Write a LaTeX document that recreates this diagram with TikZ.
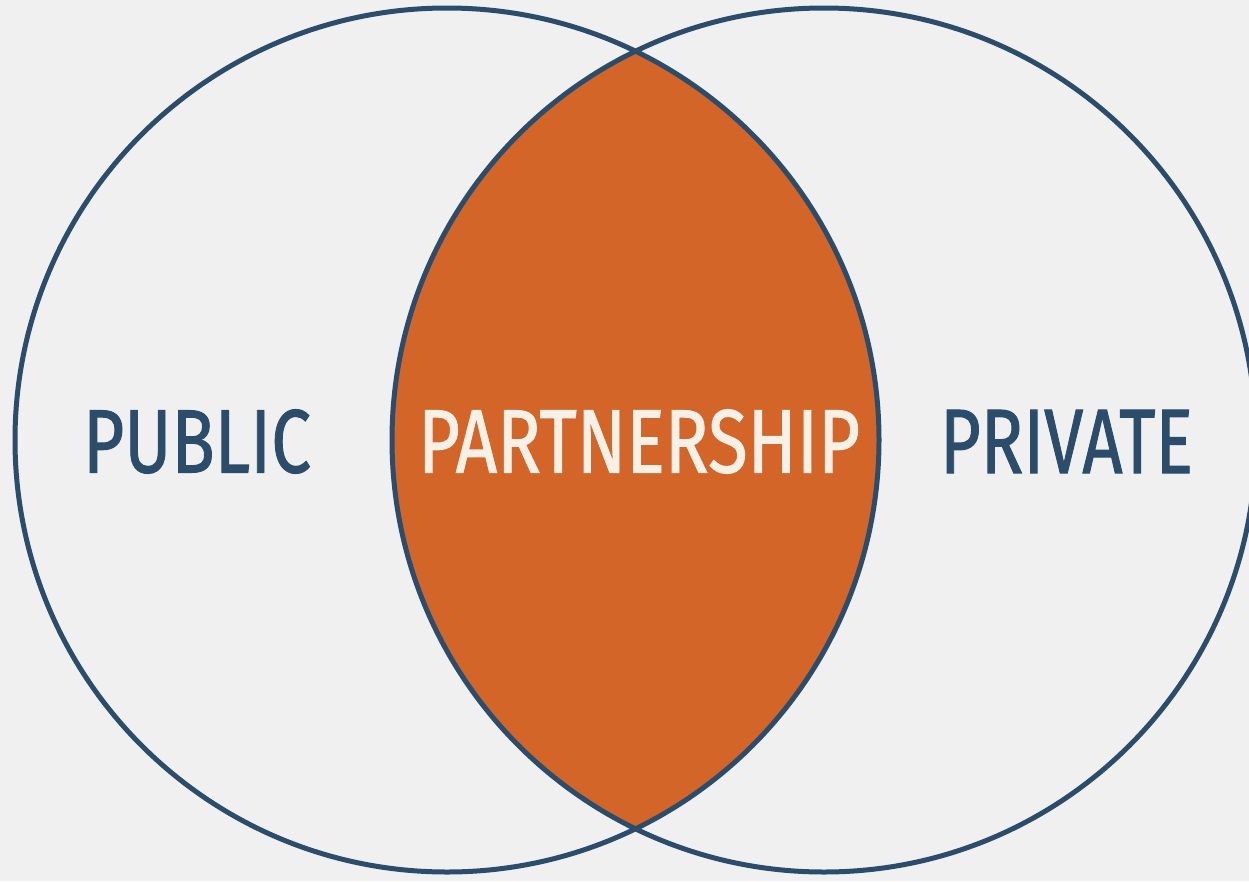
\documentclass[tikz,border=0pt]{standalone}
\usepackage{fontspec}
\setmainfont{Fira Sans}[BoldFeatures={FakeBold=1.2}, BoldFont=Fira Sans]
\usepackage{graphicx}
\definecolor{bg}{HTML}{F0F0F0}
\definecolor{ink}{HTML}{2B4D6B}
\definecolor{lens}{HTML}{D36528}
\definecolor{cream}{HTML}{F6F0E6}
\tikzset{
  ring/.style={draw=ink, line width=5pt},
  label/.style={inner sep=0pt, anchor=center, font=\bfseries},
}
\begin{document}
\begin{tikzpicture}[x=1pt,y=-1pt]
\fill[bg] (0,0) rectangle (1249,881);
\useasboundingbox (0,0) rectangle (1249,881);
\begin{scope}
  \clip (447,440) circle[radius=432];
  \fill[lens] (824,440) circle[radius=432];
\end{scope}
\draw[ring] (447,440) circle[radius=432];
\draw[ring] (824,440) circle[radius=432];
\node[label, text=ink] (pub) at (197,441.5) {\resizebox{228pt}{63pt}{PUBLIC}};
\node[label, text=cream] (par) at (639,441.5) {\resizebox{442pt}{63pt}{PARTNERSHIP}};
\node[label, text=ink] (pri) at (1066.5,441.5) {\resizebox{253pt}{63pt}{PRIVATE}};
\end{tikzpicture}
\end{document}
